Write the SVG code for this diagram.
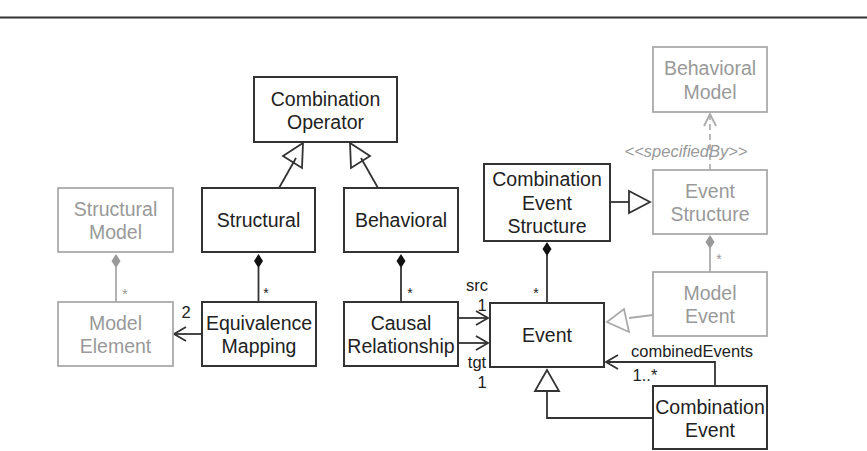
<svg xmlns="http://www.w3.org/2000/svg" width="867" height="451" viewBox="0 0 867 451">
<style>
text{font-family:"Liberation Sans",Arial,sans-serif;font-size:19.5px;text-anchor:middle;fill:#222}
.g text{fill:#999}
.box{fill:#fff;stroke:#333;stroke-width:2}
.g .box{stroke:#aaa;stroke-width:1.8}
.ln{fill:none;stroke:#333;stroke-width:1.8}
.gl{fill:none;stroke:#aaa;stroke-width:1.8}
.lbl{font-size:16.5px}
.star{font-size:14px}
.gt{fill:#999}
</style>
<rect width="867" height="451" fill="#fff"/>
<line x1="0" y1="17.5" x2="867" y2="17.5" stroke="#333" stroke-width="2"/>
<g id="connectors">
  <!-- generalizations to Combination Operator -->
  <line class="ln" x1="279" y1="188" x2="296" y2="158"/>
  <polygon class="ln" points="303,143 283,156 302,168" fill="#fff"/>
  <line class="ln" x1="378" y1="188" x2="361" y2="158"/>
  <polygon class="ln" points="350,143 351,168 370,156" fill="#fff"/>
  <!-- composition Structural -> Equivalence -->
  <line class="ln" x1="258.5" y1="267" x2="258.5" y2="302"/>
  <polygon points="258.5,254 263,261 258.5,268 254,261" fill="#111"/>
  <text class="star" x="266" y="298">*</text>
  <!-- composition Behavioral -> Causal -->
  <line class="ln" x1="401" y1="267" x2="401" y2="302"/>
  <polygon points="401,254 405.5,261 401,268 396.5,261" fill="#111"/>
  <text class="star" x="410" y="298">*</text>
  <!-- gray composition Structural Model -> Model Element -->
  <line class="gl" x1="116" y1="267" x2="116" y2="302"/>
  <polygon points="116,254 120.5,261 116,268 111.5,261" fill="#999"/>
  <text class="star gt" x="125" y="299">*</text>
  <!-- Equivalence -> Model Element -->
  <line class="ln" x1="202" y1="334" x2="174" y2="334"/>
  <polyline class="ln" points="186,327 174,334 186,341"/>
  <text class="lbl" x="186" y="318">2</text>
  <!-- Causal -> Event src/tgt -->
  <line class="ln" x1="458" y1="318" x2="488" y2="318"/>
  <polyline class="ln" points="476,311 488,318 476,325"/>
  <line class="ln" x1="458" y1="343" x2="488" y2="343"/>
  <polyline class="ln" points="476,336 488,343 476,350"/>
  <text class="lbl" x="477" y="291">src</text>
  <text class="lbl" x="482" y="311">1</text>
  <text class="lbl" x="477" y="368">tgt</text>
  <text class="lbl" x="482" y="388">1</text>
  <!-- composition CES -> Event -->
  <line class="ln" x1="547" y1="255" x2="547" y2="303"/>
  <polygon points="547,242 551.5,249 547,256 542.5,249" fill="#111"/>
  <text class="star" x="536" y="298">*</text>
  <!-- generalization CES -> Event Structure -->
  <line class="ln" x1="610" y1="202" x2="629" y2="202"/>
  <polygon class="ln" points="650,202 629,191 629,213" fill="#fff"/>
  <!-- dashed dependency Event Structure -> Behavioral Model -->
  <line x1="710" y1="170" x2="710" y2="114" stroke="#aaa" stroke-width="1.6" stroke-dasharray="6,4"/>
  <polyline class="gl" points="704,126 710,114 716,126"/>
  <text class="lbl gt" x="686" y="157" font-style="italic">&lt;&lt;specifiedBy&gt;&gt;</text>
  <!-- gray composition Event Structure -> Model Event -->
  <line class="gl" x1="710" y1="248" x2="710" y2="272"/>
  <polygon points="710,235 714.5,242 710,249 705.5,242" fill="#999"/>
  <text class="star gt" x="719" y="264">*</text>
  <!-- gray generalization Model Event -> Event -->
  <line class="gl" x1="653" y1="315" x2="629" y2="318"/>
  <polygon class="gl" points="607,322 624,309 629,332" fill="#fff"/>
  <!-- combinedEvents -->
  <polyline class="ln" points="715,386 715,362 606,362"/>
  <polyline class="ln" points="618,355 606,362 618,369"/>
  <text class="lbl" x="692" y="357">combinedEvents</text>
  <text class="lbl" x="645" y="381">1..*</text>
  <!-- generalization Combination Event -> Event -->
  <polyline class="ln" points="653,418 547,418 547,391"/>
  <polygon class="ln" points="547,370 535,391 559,391" fill="#fff"/>
</g>
<g id="combination-operator"><rect class="box" x="254" y="77" width="143" height="65"/><text x="325.5" y="106">Combination</text><text x="325.5" y="129">Operator</text></g>
<g id="structural"><rect class="box" x="202" y="188" width="113" height="64"/><text x="258.5" y="227">Structural</text></g>
<g id="behavioral"><rect class="box" x="344" y="188" width="114" height="64"/><text x="401" y="227">Behavioral</text></g>
<g id="structural-model" class="g"><rect class="box" x="58" y="188" width="115" height="64"/><text x="115.5" y="216">Structural</text><text x="115.5" y="239">Model</text></g>
<g id="model-element" class="g"><rect class="box" x="58" y="302" width="115" height="64"/><text x="115.5" y="330">Model</text><text x="115.5" y="353">Element</text></g>
<g id="equivalence-mapping"><rect class="box" x="202" y="302" width="114" height="64"/><text x="259" y="330">Equivalence</text><text x="259" y="353">Mapping</text></g>
<g id="causal-relationship"><rect class="box" x="344" y="302" width="114" height="64"/><text x="401" y="330">Causal</text><text x="401" y="353">Relationship</text></g>
<g id="event"><rect class="box" x="490" y="303" width="114" height="64"/><text x="547" y="342">Event</text></g>
<g id="combination-event-structure"><rect class="box" x="484" y="164" width="126" height="77"/><text x="547" y="186">Combination</text><text x="547" y="210">Event</text><text x="547" y="233">Structure</text></g>
<g id="event-structure" class="g"><rect class="box" x="653" y="170" width="114" height="64"/><text x="710" y="198">Event</text><text x="710" y="221">Structure</text></g>
<g id="behavioral-model" class="g"><rect class="box" x="653" y="47" width="114" height="65"/><text x="710" y="75">Behavioral</text><text x="710" y="99">Model</text></g>
<g id="model-event" class="g"><rect class="box" x="653" y="272" width="114" height="64"/><text x="710" y="300">Model</text><text x="710" y="323">Event</text></g>
<g id="combination-event"><rect class="box" x="653" y="386" width="114" height="63"/><text x="710" y="414">Combination</text><text x="710" y="437">Event</text></g>
</svg>
